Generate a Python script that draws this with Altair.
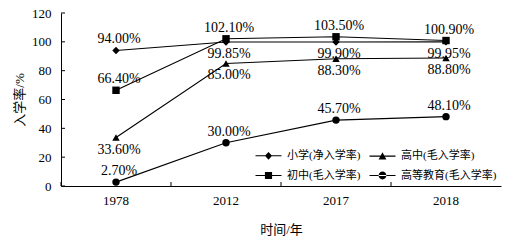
import altair as alt
import pandas as pd

years = ["1978", "2012", "2017", "2018"]
series = ["小学(净入学率)", "初中(毛入学率)", "高中(毛入学率)", "高等教育(毛入学率)"]
primary = [94.00, 99.85, 99.90, 99.95]
junior = [66.40, 102.10, 103.50, 100.90]
senior = [33.60, 85.00, 88.30, 88.80]
higher = [2.70, 30.00, 45.70, 48.10]
y_ticks = [0, 20, 40, 60, 80, 100, 120]

values = {series[0]: primary, series[1]: junior, series[2]: senior, series[3]: higher}
rows = []
for s in series:
    for yr, v in zip(years, values[s]):
        rows.append({"year": yr, "series": s, "rate": v, "label": f"{v:.2f}%"})
df = pd.DataFrame(rows)

below = {(series[0], y) for y in years[1:]} | {(series[2], y) for y in years}
df["place"] = ["below" if (s, y) in below else "above" for s, y in zip(df.series, df.year)]

SERIF = "Liberation Serif, Noto Sans CJK SC"

xscale = alt.Scale(type="band", domain=years, paddingInner=0, paddingOuter=0)
yscale = alt.Scale(domain=[0, 120], nice=False, zero=True)

xaxis = alt.Axis(title="时间/年", ticks=False, labelAngle=0, labelFontSize=13,
                 labelPadding=8, titleFontSize=13, titlePadding=16,
                 titleFontWeight="normal", domainColor="black", grid=False)
yaxis = alt.Axis(title="入学率/%", values=y_ticks, ticks=False, labelFontSize=13,
                 labelPadding=10, titleFontSize=13, titlePadding=5,
                 titleFontWeight="normal", domainColor="black", grid=False)

X = alt.X("year:N", scale=xscale, sort=years, axis=xaxis)
Y = alt.Y("rate:Q", scale=yscale, axis=yaxis)

base = alt.Chart(df)

lines = base.mark_line(color="black", strokeWidth=1.1).encode(
    x=X, y=Y, detail="series:N")

shape_names = ["diamond", "square", "triangle-up", "circle"]
points = base.mark_point(filled=True, color="black", opacity=1, size=55).encode(
    x=X, y=Y,
    shape=alt.Shape("series:N", scale=alt.Scale(domain=series, range=shape_names), legend=None))

labels_above = base.transform_filter(alt.datum.place == "above").mark_text(
    dy=-11, dx=3, fontSize=14, font="Liberation Serif", color="black", baseline="middle"
).encode(x=X, y=Y, text="label:N")
labels_below = base.transform_filter(alt.datum.place == "below").mark_text(
    dy=12, dx=3, fontSize=14, font="Liberation Serif", color="black", baseline="middle"
).encode(x=X, y=Y, text="label:N")

BAR = "M-2,-0.08L2,-0.08L2,0.08L-2,0.08Z"
legend_paths = [
    BAR + "M-0.55,0L0,-0.6L0.55,0L0,0.6Z",
    BAR + "M-0.55,-0.55L0.55,-0.55L0.55,0.55L-0.55,0.55Z",
    BAR + "M-0.6,0.5L0,-0.6L0.6,0.5Z",
    BAR + "M-0.6,0A0.6,0.6,0,1,0,0.6,0A0.6,0.6,0,1,0,-0.6,0Z",
]
legend_layer = base.transform_filter("false").mark_point(
    filled=True, color="black", opacity=1
).encode(
    x=X, y=Y,
    shape=alt.Shape("series:N", scale=alt.Scale(domain=series, range=legend_paths),
                    legend=alt.Legend(title=None, orient="none", legendX=200, legendY=135,
                                      columns=2, columnPadding=5, rowPadding=5,
                                      symbolSize=169,
                                      labelOffset=11, labelFontSize=11, labelFont=SERIF,
                                      padding=0)))

ytick_rules = alt.Chart(pd.DataFrame({"rate": y_ticks})).mark_rule(color="black", strokeWidth=1).encode(
    y=Y, x=alt.value(0), x2=alt.value(4))
xtick_rules = alt.Chart(pd.DataFrame({"year": years})).mark_rule(color="black", strokeWidth=1).encode(
    x=alt.X("year:N", scale=xscale, sort=years, bandPosition=0, axis=xaxis),
    y=alt.value(173), y2=alt.value(169))

chart = alt.layer(
    ytick_rules, xtick_rules, lines, points, labels_above, labels_below, legend_layer
).resolve_scale(shape="independent").properties(
    width=440, height=173,
    padding={"left": 61, "top": 13, "right": 14, "bottom": 54},
    autosize=alt.AutoSizeParams(type="none"),
).configure(font=SERIF).configure_view(stroke=None).configure_axis(
    labelColor="black", titleColor="black", labelFont="Liberation Serif", titleFont=SERIF
).configure_legend(labelColor="black")

chart.save("out.html", embed_options={"renderer": "svg", "actions": False})
